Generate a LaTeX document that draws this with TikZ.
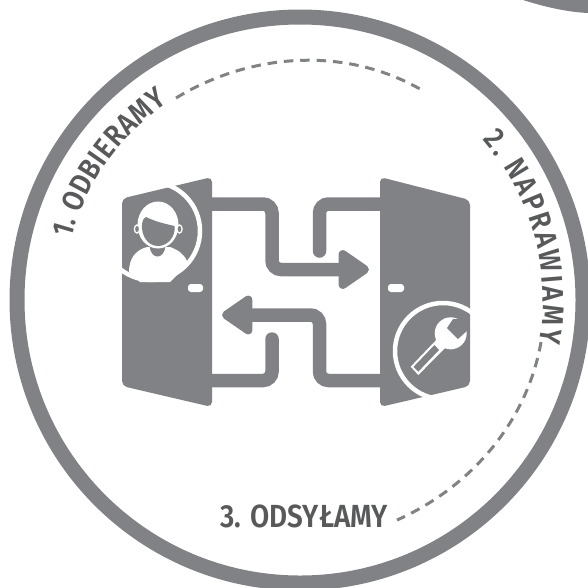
\documentclass[tikz,border=0pt]{standalone}
\usepackage{fontspec}
\usetikzlibrary{arrows.meta,decorations.text}
\newfontfamily\stepfont[FakeStretch=0.87]{Fira Sans SemiBold}
\definecolor{signgray}{HTML}{808285}
\definecolor{textgray}{HTML}{58595B}
\newcommand{\stepstyle}{\color{textgray}\stepfont\fontsize{30}{30}\selectfont}
\begin{document}
\begin{tikzpicture}[
    x=1pt, y=-1pt,
    ring/.style={draw=signgray, line width=15pt},
    door/.style={fill=signgray, rounded corners=5pt},
    flowline/.style={draw=signgray, line width=13.5pt, rounded corners=9pt},
    flowarrow/.style={flowline, -{Triangle[length=34pt,width=44pt,round]}},
    dashline/.style={draw=signgray, line width=3pt, dash pattern=on 9.5pt off 6.9pt},
    badge/.style={draw=white, line width=4.5pt},
    steplabel/.style={font=\stepstyle\fontsize{32}{32}\selectfont, inner sep=0pt},
    steppath/.style={decorate}
]
    \useasboundingbox (0,0) rectangle (588,587);

    % Outer ring and corner piece
    \draw[ring] (300,300) circle[radius=283];
    \fill[signgray] (523,0) .. controls (545,7) and (567,12) .. (588,13) -- (588,0) -- cycle;

    % Doors
    \fill[door] (122,198.5) -- (212,177) -- (212,407) -- (122,386) -- cycle;
    \fill[door] (380,177) -- (470,200) -- (470,386) -- (380,407) -- cycle;
    \fill[white, rounded corners=3pt] (188,284) rectangle (203,292);
    \fill[white, rounded corners=3pt] (388,284) rectangle (404,292);

    % Arrows
    \coordinate (leftdoortop) at (212,204);
    \coordinate (leftdoorlow) at (212,380.5);
    \coordinate (rightdoortop) at (380,204);
    \coordinate (rightdoorlow) at (380,380.5);
    \coordinate (lefttip) at (222,315);
    \coordinate (righttip) at (369,269.5);
    \coordinate (leftstub) at (272,339);
    \coordinate (rightstub) at (319.5,251);
    \draw[flowarrow] (leftdoortop) -| (272,269.5) -- (righttip);
    \draw[flowarrow] (rightdoorlow) -| (319.5,315) -- (lefttip);
    \draw[flowline, line cap=round] (leftstub) |- (leftdoorlow);
    \draw[flowline, line cap=round] (rightstub) |- (rightdoortop);

    % Person badge
    \draw[badge] (151,231) circle[radius=49];
    \fill[white] (129,272) .. controls (129,258) and (136,250) .. (147,247) -- (170,247)
        .. controls (179,250) and (186,256) .. (188,264) -- (170,282) -- (140,282) -- cycle;
    \fill[signgray] (149.5,246) .. controls (151,260) and (164,260) .. (165.5,246) -- cycle;
    \fill[white] (158,225) ellipse[x radius=20.5, y radius=23.5];
    \draw[white, fill=signgray, line width=1.3pt] (137,229) ellipse[x radius=2.6, y radius=4];
    \draw[white, fill=signgray, line width=1.3pt] (179.5,229) ellipse[x radius=2.6, y radius=4];
    \fill[signgray] (142,224) .. controls (143,219) and (144,218) .. (146,217)
        .. controls (156,222) and (166,224) .. (174.5,226)
        .. controls (176,236) and (168,246) .. (158,246)
        .. controls (148,246) and (141,236) .. (142,224) -- cycle;

    % Wrench badge
    \draw[badge] (443,351) circle[radius=48];
    \fill[white] (450.7,333.3) circle[radius=16];
    \fill[signgray] (453,319) -- (447,328) -- (458,339) -- (469,329) -- (469,319) -- cycle;
    \fill[white] (410.7,366.7) -- (418.3,375) -- (448,345) -- (440,336) -- cycle;
    \fill[signgray] (413.5,366.8) -- (418.3,371.6) -- (439,350) -- (434.5,345) -- cycle;

    % Dashed arcs
    \coordinate (topstart) at (176,98);
    \coordinate (topend) at (420,89);
    \coordinate (sidestart) at (541,342);
    \coordinate (sideend) at (397,520);
    \draw[dashline] (topstart) .. controls (250,53) and (344,46) .. (topend);
    \draw[dashline] (sidestart) .. controls (527,422) and (471,487) .. (sideend);

    % Labels
    \path[steppath, decoration={text along path, text align={fit to path},
        text={|\stepstyle|1. ODBIERAMY}}]
        (71.1,238.7) .. controls (86,183.3) and (120.5,134.9) .. (168.2,103);
    \path[steppath, decoration={text along path, text align={fit to path},
        text={|\stepstyle|2. NAPRAWIAMY}}]
        (482.8,140) .. controls (531.3,195.3) and (552.1,269.7) .. (539.3,342.2);
    \node[steplabel, anchor=base west] (odsylamy) at (220,527.7) {3. ODSYŁAMY};
\end{tikzpicture}
\end{document}
